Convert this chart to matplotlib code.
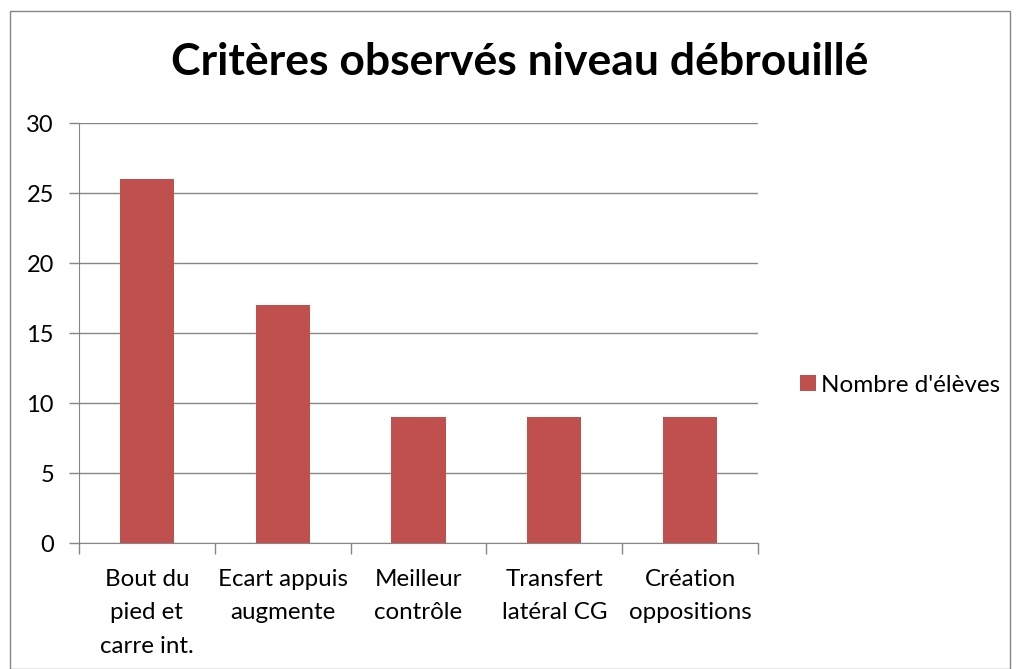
import matplotlib
matplotlib.use("Agg")
import matplotlib.pyplot as plt
from matplotlib.patches import Rectangle

categories = ["Bout du\npied et\ncarre int.", "Ecart appuis\naugmente", "Meilleur\ncontrôle",
              "Transfert\nlatéral CG", "Création\noppositions"]
values = [26, 17, 9, 9, 9]
series_name = "Nombre d'élèves"
title = "Critères observés niveau débrouillé"
yticks = [0, 5, 10, 15, 20, 25, 30]

plt.rcParams['font.family'] = ['Lato', 'DejaVu Sans']

W, H = 1017, 669
fig = plt.figure(figsize=(W / 100, H / 100), dpi=100)
fig.patch.set_facecolor('white')

# outer border
fig.add_artist(Rectangle((10 / W, 0), (1010 - 10) / W, (H - 11) / H, transform=fig.transFigure,
                         fill=False, edgecolor='#868686', linewidth=1.0))

left, right, top, bottom = 79, 758, 123, 543
ax = fig.add_axes([left / W, 1 - bottom / H, (right - left) / W, (bottom - top) / H])

grid_c = '#868686'
x = list(range(len(categories)))
bars = ax.bar(x, values, width=0.4, color='#C0504D', label=series_name, zorder=3)

ax.set_xlim(-0.5, len(categories) - 0.5)
ax.set_ylim(0, 30)
ax.set_yticks(yticks)
ax.set_yticklabels([str(v) for v in yticks], fontsize=17)
ax.yaxis.grid(True, color=grid_c, linewidth=1.0, zorder=0)
ax.set_axisbelow(True)

for s in ['top', 'right']:
    ax.spines[s].set_visible(False)
ax.spines['left'].set_color(grid_c)
ax.spines['bottom'].set_color(grid_c)
ax.spines['left'].set_zorder(4)
ax.spines['bottom'].set_zorder(4)

ax.tick_params(axis='y', length=7, color=grid_c, pad=11, width=1)
# x ticks at category boundaries
ax.set_xticks([i - 0.5 for i in range(len(categories) + 1)])
ax.set_xticklabels([])
ax.tick_params(axis='x', length=8, color=grid_c, width=1)
for i, c in enumerate(categories):
    ax.text(i, -0.062, c, transform=ax.get_xaxis_transform(), ha='center', va='top',
            fontsize=17.4, linespacing=1.72)

fig.text(520 / W, 1 - 62 / H, title, ha='center', va='center', fontsize=32, fontweight='bold')

leg = fig.legend(handles=[bars], labels=[series_name], loc='center left',
                 bbox_to_anchor=(778 / W, 1 - 385 / H), frameon=False, fontsize=17.5,
                 handlelength=0.67, handleheight=0.67, handletextpad=0.18)

fig.savefig("out.png", dpi=100)
